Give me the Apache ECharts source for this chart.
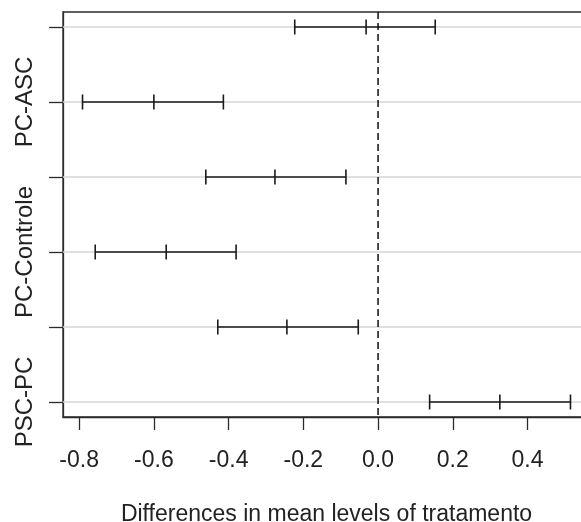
<!DOCTYPE html>
<html>
<head>
<meta charset="utf-8">
<script src="https://cdn.jsdelivr.net/npm/echarts@6/dist/echarts.min.js"></script>
<style>
html,body{margin:0;padding:0;background:#fff;}
#chart{width:581px;height:522px;}
</style>
</head>
<body>
<div id="chart"></div>
<script>
// Tukey HSD comparisons, top to bottom
var comparisons = ["Controle-ASC", "PC-ASC", "PSC-ASC", "PC-Controle", "PSC-Controle", "PSC-PC"];
var diffVals = [-0.032, -0.600, -0.276, -0.567, -0.244, 0.326];
var lwrVals  = [-0.223, -0.791, -0.461, -0.757, -0.429, 0.138];
var uprVals  = [ 0.153, -0.414, -0.086, -0.380, -0.053, 0.515];
var xTicks = [-0.8, -0.6, -0.4, -0.2, 0.0, 0.2, 0.4];
var yLabelPositions = [5, 3, 1]; // labels R managed to fit: PC-ASC, PC-Controle, PSC-PC
var refLine = [0];

var n = comparisons.length;
var yPos = comparisons.map(function (_, i) { return n - i; });
var lo = Math.min.apply(null, lwrVals), hi = Math.max.apply(null, uprVals);
var ext = (hi - lo) * 0.04;
var xMin = lo - ext, xMax = hi + ext;
var yMin = 1 - (n - 1) * 0.04, yMax = n + (n - 1) * 0.04;

var barData = comparisons.map(function (c, i) {
  return [lwrVals[i], diffVals[i], uprVals[i], yPos[i]];
});

var font = "'Liberation Sans', Arial, sans-serif";
var axisColor = '#2a2a2a';
var chart = echarts.init(document.getElementById('chart'), null, {renderer: 'canvas'});
chart.setOption({
  animation: false,
  backgroundColor: '#ffffff',
  grid: {
    left: 63, top: 12, width: 527, height: 405,
    outerBoundsMode: 'none', containLabel: false,
    show: true, borderColor: axisColor, borderWidth: 1.3, backgroundColor: 'transparent'
  },
  xAxis: {
    type: 'value', min: xMin, max: xMax,
    name: 'Differences in mean levels of tratamento',
    nameLocation: 'middle', nameGap: 86,
    nameTextStyle: {fontFamily: font, fontSize: 23, color: '#222'},
    axisLine: {show: true, onZero: false, lineStyle: {color: axisColor, width: 1.3}},
    axisTick: {show: true, length: 13, customValues: xTicks, lineStyle: {color: axisColor, width: 1.3}},
    axisLabel: {
      customValues: xTicks, margin: 32,
      fontFamily: font, fontSize: 23, color: '#222',
      formatter: function (v) { return v.toFixed(1); }
    },
    splitLine: {show: false}
  },
  yAxis: {
    type: 'value', min: yMin, max: yMax,
    axisLine: {show: true, onZero: false, lineStyle: {color: axisColor, width: 1.3}},
    axisTick: {show: true, length: 14, customValues: yPos, lineStyle: {color: axisColor, width: 1.3}},
    axisLabel: {
      customValues: yLabelPositions, rotate: 90, margin: 26,
      fontFamily: font, fontSize: 24, color: '#222',
      formatter: function (v) { return comparisons[n - Math.round(v)]; }
    },
    splitLine: {show: false}
  },
  series: [
    {
      type: 'custom', z: 1, silent: true,
      data: yPos.map(function (y) { return [0, y]; }),
      renderItem: function (params, api) {
        var cs = params.coordSys;
        var p = api.coord([0, api.value(1)]);
        return {type: 'line', shape: {x1: cs.x, y1: p[1], x2: cs.x + cs.width, y2: p[1]},
                style: {stroke: '#d6d6d6', lineWidth: 1.3}};
      }
    },
    {
      type: 'custom', z: 3, silent: true,
      data: barData,
      renderItem: function (params, api) {
        var l = api.coord([api.value(0), api.value(3)]);
        var m = api.coord([api.value(1), api.value(3)]);
        var u = api.coord([api.value(2), api.value(3)]);
        var h = 7.5;
        var st = {stroke: '#1a1a1a', lineWidth: 1.6, fill: null};
        return {
          type: 'group',
          children: [
            {type: 'line', shape: {x1: l[0], y1: l[1], x2: u[0], y2: u[1]}, style: st},
            {type: 'line', shape: {x1: l[0], y1: l[1] - h, x2: l[0], y2: l[1] + h}, style: st},
            {type: 'line', shape: {x1: m[0], y1: m[1] - h, x2: m[0], y2: m[1] + h}, style: st},
            {type: 'line', shape: {x1: u[0], y1: u[1] - h, x2: u[0], y2: u[1] + h}, style: st}
          ]
        };
      }
    },
    {
      type: 'custom', z: 4, silent: true,
      data: refLine.map(function (v) { return [v, 1]; }),
      renderItem: function (params, api) {
        var cs = params.coordSys;
        var p = api.coord([api.value(0), 1]);
        return {type: 'line', shape: {x1: p[0], y1: cs.y, x2: p[0], y2: cs.y + cs.height},
                style: {stroke: '#111', lineWidth: 1.5, lineDash: [7, 4]}};
      }
    }
  ]
});
</script>
</body>
</html>
